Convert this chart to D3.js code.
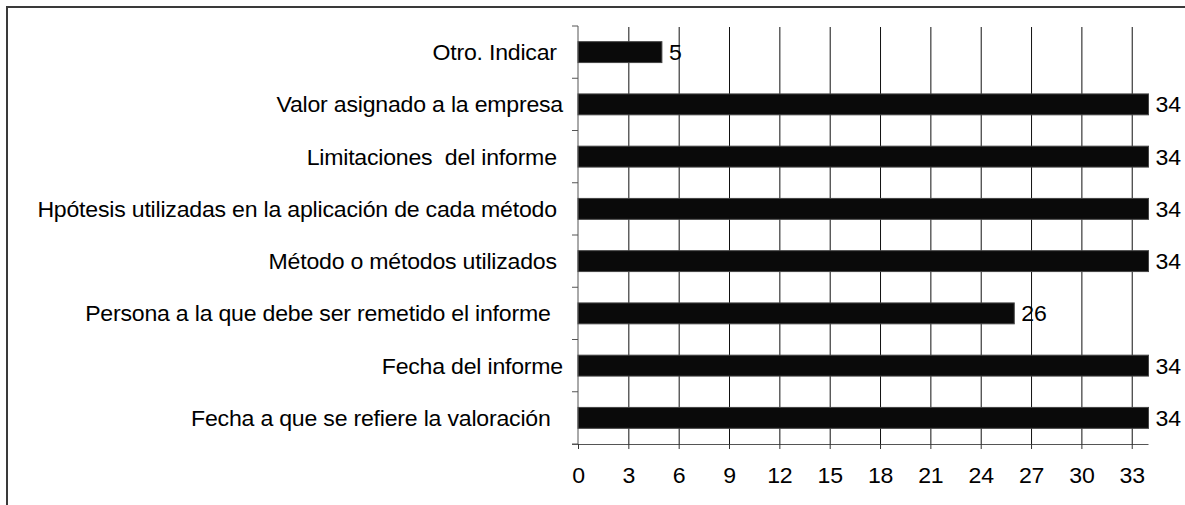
<html>
<head>
<meta charset="utf-8">
<script src='https://d3js.org/d3.v7.min.js'></script>
<style>
body {margin: 0; background: #fff;}
.chart text {font-family: 'Liberation Sans', Arial, sans-serif; font-size: 22px; letter-spacing: -0.2px; fill: #000; white-space: pre;}
</style>
</head>
<body>
<svg class='chart' width='1185' height='505' id='chart'></svg>

<script>
// categories, top to bottom (trailing spaces as in the original labels)
const categories = [
  "Otro. Indicar ",
  "Valor asignado a la empresa",
  "Limitaciones  del informe ",
  "Hpótesis utilizadas en la aplicación de cada método ",
  "Método o métodos utilizados ",
  "Persona a la que debe ser remetido el informe  ",
  "Fecha del informe",
  "Fecha a que se refiere la valoración  "
];
const values = [5, 34, 34, 34, 34, 26, 34, 34];
const xTicks = [0, 3, 6, 9, 12, 15, 18, 21, 24, 27, 30, 33];

const stretch = 'scale(1.05,1)';   // the original text is a bit wide

const svg = d3.select('#chart');

const plotLeft = 578, plotRight = 1148.5, plotTop = 26, plotBottom = 444;

const x = d3.scaleLinear()
  .domain([0, 34])
  .range([plotLeft, plotRight]);

const y = d3.scaleBand()
  .domain(categories)
  .range([plotTop, plotBottom])
  .paddingInner(0.6)
  .paddingOuter(0.3);

// outer frame (only top and left edges visible)
svg.append('path')
  .attr('d', 'M7,505 V7 H1185')
  .attr('fill', 'none')
  .attr('stroke', '#3a3a3a')
  .attr('stroke-width', 2);

// vertical gridlines
svg.append('g')
  .attr('transform', 'translate(0,' + plotBottom + ')')
  .call(d3.axisBottom(x).tickValues(xTicks.slice(1)).tickSize(-(plotBottom - plotTop - 1)).tickFormat(''))
  .call(g => g.select('.domain').remove())
  .selectAll('line')
  .attr('stroke', '#111')
  .attr('stroke-width', 1);

// bars
svg.append('g')
  .selectAll('rect')
  .data(values)
  .enter()
  .append('rect')
  .attr('x', x(0))
  .attr('y', (d, i) => y(categories[i]))
  .attr('width', d => x(d) - x(0))
  .attr('height', y.bandwidth())
  .attr('fill', '#0a0a0a')
  .attr('stroke', '#444')
  .attr('stroke-width', 1);

// value labels
svg.append('g')
  .selectAll('g')
  .data(values)
  .enter()
  .append('g')
  .attr('transform', (d, i) => 'translate(' + (x(d) + 7) + ',' + (y(categories[i]) + y.bandwidth() / 2) + ')')
  .append('text')
  .attr('dy', '0.36em')
  .attr('transform', stretch)
  .text(d => d);

// y axis line and category boundary ticks
const bounds = d3.range(categories.length + 1).map(i => plotTop + i * y.step());
svg.append('line')
  .attr('x1', plotLeft).attr('x2', plotLeft)
  .attr('y1', plotTop).attr('y2', plotBottom)
  .attr('stroke', '#555');
svg.append('g')
  .selectAll('line')
  .data(bounds)
  .enter()
  .append('line')
  .attr('x1', plotLeft - 6).attr('x2', plotLeft)
  .attr('y1', d => d).attr('y2', d => d)
  .attr('stroke', '#555');

// category labels
svg.append('g')
  .selectAll('g')
  .data(categories)
  .enter()
  .append('g')
  .attr('transform', d => 'translate(563,' + (y(d) + y.bandwidth() / 2) + ')')
  .append('text')
  .attr('text-anchor', 'end')
  .attr('dy', '0.36em')
  .attr('transform', stretch)
  .text(d => d);

// x axis
const xAxis = svg.append('g')
  .attr('transform', 'translate(0,' + plotBottom + ')')
  .call(d3.axisBottom(x).tickValues(xTicks).tickSize(5).tickPadding(18).tickSizeOuter(0));
xAxis.select('.domain')
  .attr('d', 'M' + (plotLeft - 6) + ',0.5H' + plotRight)
  .attr('stroke', '#555');
xAxis.selectAll('.tick line').attr('stroke', '#333');
xAxis.selectAll('.tick text')
  .attr('transform', stretch)
  .style('font-size', '22px')
  .style('font-family', "'Liberation Sans', Arial, sans-serif")
  .attr('fill', '#000');
</script>
</body>
</html>
